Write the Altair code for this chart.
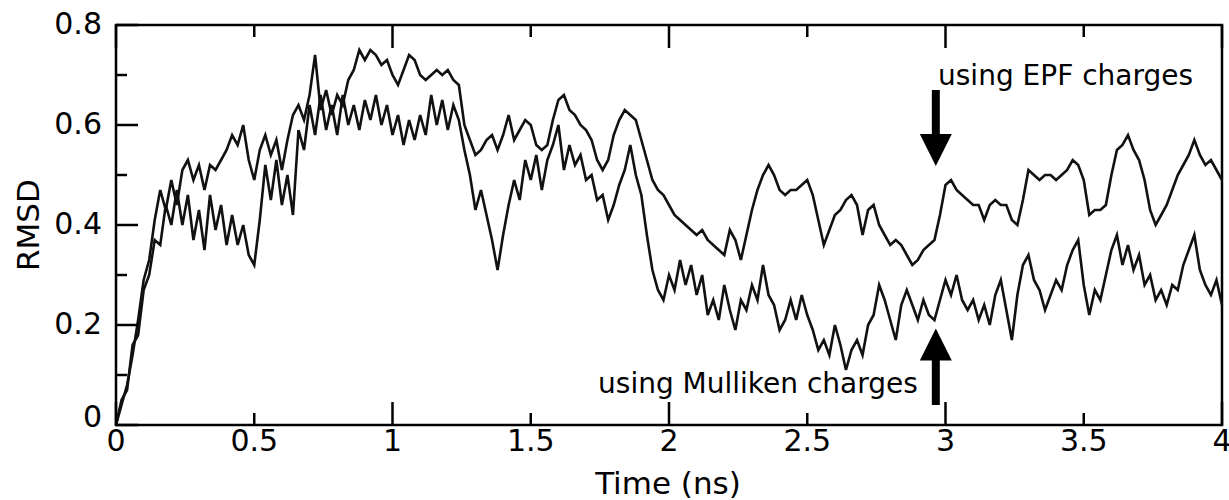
import altair as alt
import pandas as pd

# ---------------- data ----------------
STEP_NS = 0.02

rmsd_epf = [
    0.00, 0.04, 0.08, 0.14, 0.21, 0.29, 0.33, 0.41, 0.47, 0.43,
    0.49, 0.44, 0.51, 0.53, 0.49, 0.52, 0.47, 0.52, 0.51, 0.53,
    0.55, 0.58, 0.56, 0.60, 0.53, 0.49, 0.55, 0.58, 0.54, 0.57,
    0.51, 0.57, 0.62, 0.64, 0.61, 0.66, 0.74, 0.63, 0.67, 0.62,
    0.66, 0.64, 0.69, 0.71, 0.75, 0.73, 0.75, 0.74, 0.72, 0.73,
    0.70, 0.68, 0.71, 0.74, 0.73, 0.70, 0.69, 0.70, 0.71, 0.70,
    0.71, 0.69, 0.68, 0.60, 0.57, 0.54, 0.55, 0.57, 0.58, 0.55,
    0.58, 0.62, 0.57, 0.59, 0.61, 0.60, 0.56, 0.55, 0.56, 0.61,
    0.65, 0.66, 0.63, 0.62, 0.60, 0.59, 0.57, 0.53, 0.51, 0.53,
    0.58, 0.61, 0.63, 0.62, 0.61, 0.57, 0.53, 0.49, 0.47, 0.46,
    0.44, 0.42, 0.41, 0.40, 0.39, 0.38, 0.39, 0.37, 0.36, 0.35,
    0.34, 0.39, 0.37, 0.33, 0.38, 0.43, 0.47, 0.50, 0.52, 0.50,
    0.47, 0.46, 0.47, 0.47, 0.48, 0.49, 0.46, 0.41, 0.36, 0.39,
    0.42, 0.43, 0.45, 0.46, 0.44, 0.38, 0.43, 0.44, 0.40, 0.38,
    0.36, 0.37, 0.36, 0.34, 0.32, 0.33, 0.35, 0.36, 0.37, 0.42,
    0.48, 0.49, 0.47, 0.46, 0.45, 0.44, 0.44, 0.41, 0.44, 0.45,
    0.44, 0.44, 0.41, 0.40, 0.45, 0.51, 0.50, 0.49, 0.50, 0.50,
    0.49, 0.50, 0.51, 0.53, 0.52, 0.49, 0.42, 0.43, 0.43, 0.44,
    0.50, 0.55, 0.56, 0.58, 0.55, 0.53, 0.49, 0.43, 0.40, 0.42,
    0.44, 0.47, 0.50, 0.52, 0.54, 0.57, 0.54, 0.52, 0.53, 0.51,
    0.49,
]

rmsd_mulliken = [
    0.00, 0.05, 0.07, 0.16, 0.18, 0.27, 0.30, 0.37, 0.36, 0.44,
    0.40, 0.47, 0.40, 0.46, 0.37, 0.43, 0.35, 0.46, 0.39, 0.44,
    0.36, 0.42, 0.36, 0.40, 0.34, 0.32, 0.41, 0.52, 0.45, 0.53,
    0.44, 0.50, 0.42, 0.59, 0.55, 0.64, 0.58, 0.66, 0.59, 0.64,
    0.58, 0.66, 0.60, 0.64, 0.59, 0.65, 0.61, 0.66, 0.60, 0.64,
    0.58, 0.62, 0.56, 0.61, 0.57, 0.62, 0.58, 0.66, 0.60, 0.65,
    0.59, 0.64, 0.61, 0.55, 0.50, 0.43, 0.47, 0.42, 0.37, 0.31,
    0.38, 0.44, 0.49, 0.45, 0.53, 0.49, 0.54, 0.47, 0.53, 0.56,
    0.60, 0.51, 0.56, 0.52, 0.54, 0.49, 0.50, 0.45, 0.46, 0.41,
    0.44, 0.48, 0.51, 0.56, 0.50, 0.46, 0.38, 0.31, 0.27, 0.25,
    0.30, 0.27, 0.33, 0.28, 0.32, 0.26, 0.30, 0.22, 0.25, 0.21,
    0.28, 0.23, 0.19, 0.25, 0.23, 0.28, 0.25, 0.32, 0.26, 0.24,
    0.19, 0.21, 0.25, 0.21, 0.26, 0.22, 0.19, 0.15, 0.17, 0.14,
    0.20, 0.16, 0.11, 0.15, 0.17, 0.14, 0.20, 0.22, 0.28, 0.25,
    0.21, 0.17, 0.24, 0.27, 0.24, 0.21, 0.25, 0.22, 0.21, 0.25,
    0.29, 0.26, 0.30, 0.25, 0.23, 0.25, 0.21, 0.24, 0.20, 0.26,
    0.29, 0.23, 0.17, 0.26, 0.32, 0.34, 0.29, 0.27, 0.23, 0.26,
    0.29, 0.27, 0.32, 0.35, 0.37, 0.28, 0.22, 0.27, 0.25, 0.30,
    0.35, 0.38, 0.32, 0.36, 0.31, 0.34, 0.28, 0.30, 0.25, 0.27,
    0.24, 0.28, 0.27, 0.32, 0.35, 0.38, 0.31, 0.28, 0.26, 0.29,
    0.24,
]

x_label_values = [0, 0.5, 1, 1.5, 2, 2.5, 3, 3.5, 4]
y_label_values = [0.2, 0.4, 0.6, 0.8]
y_label_origin = [0]
x_major_ticks = [0, 1, 2, 3, 4]
x_minor_ticks = [0.5, 1.5, 2.5, 3.5]
y_major_ticks = [0, 0.2, 0.4, 0.6, 0.8]
y_minor_ticks = [0.1, 0.3, 0.5, 0.7]

x_title = "Time (ns)"
y_title = "RMSD"
label_epf = "using EPF charges"
label_mulliken = "using Mulliken charges"

# ---------------- build tables ----------------
time_epf = [round(i * STEP_NS, 2) for i in range(len(rmsd_epf))]
time_mul = [round(i * STEP_NS, 2) for i in range(len(rmsd_mulliken))]
traces = pd.DataFrame({
    "time": time_epf + time_mul,
    "rmsd": rmsd_epf + rmsd_mulliken,
    "series": ["EPF"] * len(rmsd_epf) + ["Mulliken"] * len(rmsd_mulliken),
})

FONT = "DejaVu Sans"
INK = "#111111"
W, H = 1106, 400
TICK_FS = 30
TITLE_FS = 31

xs = alt.Scale(domain=[0, 4], nice=False, zero=False)
ys = alt.Scale(domain=[0, 0.8], nice=False, zero=False)

def X(field):
    return alt.X(field, scale=xs, axis=None)

def Y(field):
    return alt.Y(field, scale=ys, axis=None)

lines = alt.Chart(traces).mark_line(color=INK, strokeWidth=2.6).encode(
    x=X("time:Q"), y=Y("rmsd:Q"), detail="series:N",
)

def xticks(vals, length):
    d = pd.DataFrame({"v": vals})
    bottom = alt.Chart(d).mark_rule(color="black", strokeWidth=2.5).encode(
        x=X("v:Q"), y=alt.value(H), y2=alt.value(H - length))
    top = alt.Chart(d).mark_rule(color="black", strokeWidth=2.5).encode(
        x=X("v:Q"), y=alt.value(0), y2=alt.value(length))
    return [bottom, top]

def yticks(vals, length):
    d = pd.DataFrame({"v": vals})
    return [alt.Chart(d).mark_rule(color="black", strokeWidth=2.5).encode(
        y=Y("v:Q"), x=alt.value(0), x2=alt.value(length))]

tick_layers = xticks(x_major_ticks, 23) + xticks(x_minor_ticks, 12) + \
    yticks(y_major_ticks, 22) + yticks(y_minor_ticks, 11)

# tick labels (placed through the same scales)
x_labels = alt.Chart(pd.DataFrame({"v": x_label_values})).mark_text(
    font=FONT, fontSize=TICK_FS, color="black", align="center", baseline="top"
).encode(x=X("v:Q"), y=alt.value(H + 2), text=alt.Text("v:Q", format="~g"))
y_labels = alt.Chart(pd.DataFrame({"v": y_label_values})).mark_text(
    font=FONT, fontSize=TICK_FS, color="black", align="right", baseline="middle"
).encode(y=Y("v:Q"), x=alt.value(-14), text=alt.Text("v:Q", format="~g"))
y_label0 = alt.Chart(pd.DataFrame({"v": y_label_origin})).mark_text(
    font=FONT, fontSize=TICK_FS, color="black", align="right", baseline="middle", dy=-7
).encode(y=Y("v:Q"), x=alt.value(-14), text=alt.Text("v:Q", format="~g"))

# axis titles
x_title_layer = alt.Chart(pd.DataFrame({"t": [x_title]})).mark_text(
    font=FONT, fontSize=TITLE_FS, color="black", align="center", baseline="middle"
).encode(x=alt.value(552), y=alt.value(H + 60), text="t:N")
y_title_layer = alt.Chart(pd.DataFrame({"t": [y_title]})).mark_text(
    font=FONT, fontSize=TITLE_FS, color="black", align="center", baseline="middle", angle=270
).encode(x=alt.value(-86), y=alt.value(200), text="t:N")

# arrows (positions in data units)
ARROW_X = 2.965
shafts = pd.DataFrame({"x": [ARROW_X, ARROW_X], "y": [0.67, 0.13], "y2": [0.58, 0.04]})
heads = pd.DataFrame({"x": [ARROW_X], "y": [0.55]})
heads_up = pd.DataFrame({"x": [ARROW_X], "y": [0.161]})

shaft_layer = alt.Chart(shafts).mark_rule(color="black", strokeWidth=8).encode(
    x=X("x:Q"), y=Y("y:Q"), y2="y2:Q")
head_down = alt.Chart(heads).mark_point(
    shape="M-1,-1L1,-1L0,1Z", filled=True, color="black", opacity=1, size=1024, strokeWidth=0
).encode(x=X("x:Q"), y=Y("y:Q"))
head_up = alt.Chart(heads_up).mark_point(
    shape="M-1,1L1,1L0,-1Z", filled=True, color="black", opacity=1, size=1024, strokeWidth=0
).encode(x=X("x:Q"), y=Y("y:Q"))

txt_epf = alt.Chart(pd.DataFrame({"x": [2.973], "y": [0.68], "t": [label_epf]})).mark_text(
    align="left", baseline="alphabetic", font=FONT, fontSize=28, color="black"
).encode(x=X("x:Q"), y=Y("y:Q"), text="t:N")
txt_mul = alt.Chart(pd.DataFrame({"x": [2.90], "y": [0.064], "t": [label_mulliken]})).mark_text(
    align="right", baseline="alphabetic", font=FONT, fontSize=28, color="black"
).encode(x=X("x:Q"), y=Y("y:Q"), text="t:N")

chart = alt.layer(
    lines, *tick_layers, x_labels, y_labels, y_label0, x_title_layer, y_title_layer,
    shaft_layer, head_down, head_up, txt_epf, txt_mul,
).properties(
    width=W, height=H,
    autosize=alt.AutoSizeParams(type="none"),
    padding={"left": 116, "top": 25, "right": 7, "bottom": 75},
    background="white",
).configure_view(stroke="black", strokeWidth=2.5)

chart.save("out.html", embed_options={"renderer": "svg", "actions": False})
